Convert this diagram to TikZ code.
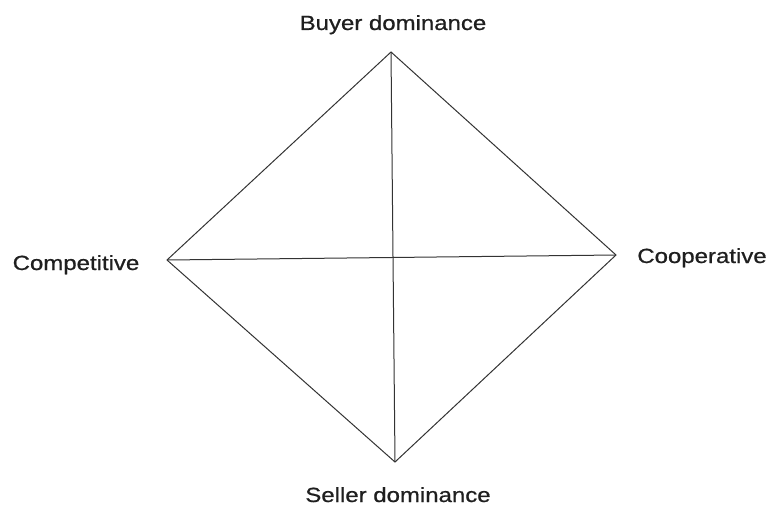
\documentclass[tikz,border=0pt]{standalone}
\usepackage{fontspec}
\setmainfont{Liberation Sans}
\newfontfamily\lblfont{Liberation Sans}[BoldFont={Liberation Sans},BoldFeatures={FakeBold=0.7}]
\newcommand{\widetext}[1]{\scalebox{1.17}[1]{#1}}
\begin{document}
\begin{tikzpicture}[x=1pt,y=-1pt,
  edge/.style={draw=black!80, line width=1pt},
  lbl/.style={font=\lblfont\bfseries\fontsize{20.5}{24}\selectfont, text=black!88, inner sep=0pt, anchor=base}]
\useasboundingbox (0,0) rectangle (770,511);
\coordinate (T) at (391,52);
\coordinate (L) at (167,260);
\coordinate (R) at (616,255);
\coordinate (B) at (395,462);
\draw[edge] (T) -- (R) -- (B) -- (L) -- cycle;
\draw[edge] (T) -- (B);
\draw[edge] (L) -- (R);
\node[lbl] (buyer) at (393,30) {\widetext{Buyer dominance}};
\node[lbl] (comp) at (76,270) {\widetext{Competitive}};
\node[lbl] (coop) at (702,263) {\widetext{Cooperative}};
\node[lbl] (seller) at (398,502) {\widetext{Seller dominance}};
\end{tikzpicture}
\end{document}
